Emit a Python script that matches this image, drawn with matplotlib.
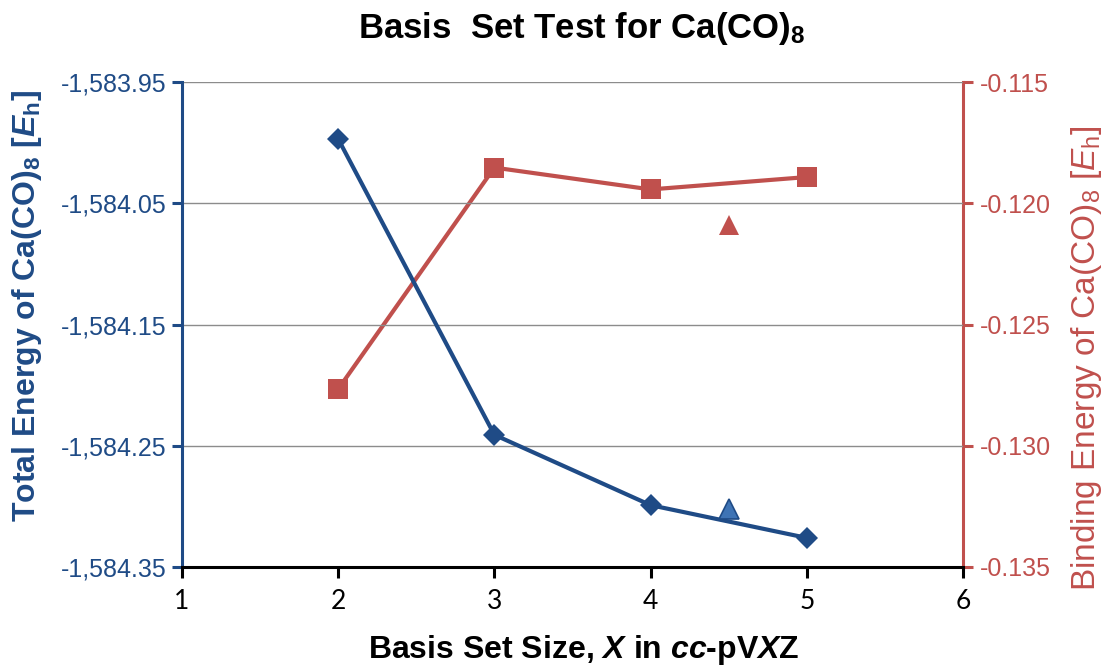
import matplotlib
matplotlib.use("Agg")
import matplotlib.pyplot as plt
from matplotlib.ticker import FuncFormatter

plt.rcParams['font.family'] = ['Liberation Sans', 'DejaVu Sans']
plt.rcParams['mathtext.fontset'] = 'custom'
plt.rcParams['mathtext.rm'] = 'Liberation Sans'
plt.rcParams['mathtext.it'] = 'Liberation Sans:italic'
plt.rcParams['mathtext.bf'] = 'Liberation Sans:bold'
plt.rcParams['mathtext.bfit'] = 'Liberation Sans:bold:italic'

# ---- data ----
basis_x = [2, 3, 4, 5]
total_energy = [-1583.997, -1584.241, -1584.299, -1584.326]
binding_energy = [-0.12766, -0.11853, -0.11943, -0.11892]
extra_x = [4.5]
extra_total = [-1584.302]
extra_binding = [-0.12088]

left_ticks = [-1583.95, -1584.05, -1584.15, -1584.25, -1584.35]
right_ticks = [-0.115, -0.120, -0.125, -0.130, -0.135]
x_ticks = [1, 2, 3, 4, 5, 6]

BLUE = '#1F4B86'
BLUE_LIGHT = '#3F74B5'
RED = '#C0504D'

W, H = 1108, 671
fig = plt.figure(figsize=(W / 100, H / 100), dpi=100)
ax = fig.add_axes([182 / W, 1 - 567 / H, (963 - 182) / W, (567 - 82) / H])
ax2 = ax.twinx()

ax.set_xlim(1, 6)
ax.set_ylim(-1584.35, -1583.95)
ax2.set_ylim(-0.135, -0.115)
ax.set_xticks(x_ticks)
ax.set_yticks(left_ticks)
ax2.set_yticks(right_ticks)

ax.yaxis.set_major_formatter(FuncFormatter(lambda v, p: f"{v:,.2f}"))
ax2.yaxis.set_major_formatter(FuncFormatter(lambda v, p: f"{v:.3f}"))

ax.grid(axis='y', color='#8C8C8C', linewidth=1.0)
ax.set_axisbelow(True)

# spines
for a in (ax, ax2):
    a.spines['top'].set_visible(False)
ax.spines['left'].set_color(BLUE)
ax.spines['left'].set_linewidth(2.2)
ax.spines['bottom'].set_color('black')
ax.spines['bottom'].set_linewidth(2.2)
ax.spines['right'].set_visible(False)
ax2.spines['left'].set_visible(False)
ax2.spines['bottom'].set_visible(False)
ax2.spines['right'].set_color(RED)
ax2.spines['right'].set_linewidth(2.2)

ax.tick_params(axis='y', colors=BLUE, labelsize=18, length=7, width=2.2,
               direction='out', pad=4)
ax.tick_params(axis='x', colors='black', labelsize=19, length=8, width=2.2,
               direction='out', pad=8)
for lab in ax.get_xticklabels():
    lab.set_family(['Lato', 'Liberation Sans'])
ax2.tick_params(axis='y', colors=RED, labelsize=18, length=7, width=2.2,
                direction='out', pad=5)

# series
ax.plot(basis_x, total_energy, color=BLUE, linewidth=3, marker='D',
        markersize=11, markeredgewidth=0, zorder=5, clip_on=False)
ax2.plot(basis_x, binding_energy, color=RED, linewidth=3, marker='s',
         markersize=14, markeredgewidth=0, zorder=5, clip_on=False)
ax.plot(extra_x, extra_total, linestyle='none', marker='^', markersize=14,
        color=BLUE_LIGHT, markeredgecolor=BLUE, markeredgewidth=1.2, zorder=6)
ax2.plot(extra_x, extra_binding, linestyle='none', marker='^', markersize=15,
         color=RED, markeredgewidth=0, zorder=6)

ax.set_zorder(ax2.get_zorder() + 1)
ax.patch.set_visible(False)

# labels
fig.text(582 / W, 1 - 38 / H, r"Basis  Set Test for Ca(CO)$_\mathbf{8}$",
         fontsize=25, fontweight='bold', ha='center', va='baseline')
fig.text(584 / W, 1 - 658 / H,
         r"Basis Set Size, $\mathbfit{X}$ in $\mathbfit{cc}$-pV$\mathbfit{X}$Z",
         fontsize=23, fontweight='bold', ha='center', va='baseline')
fig.text(27 / W, 1 - 306 / H,
         r"Total Energy of Ca(CO)$_\mathbf{8}$ [$\mathbfit{E}_\mathbf{h}$]",
         fontsize=23, fontweight='bold', color=BLUE, rotation=90,
         ha='center', va='center')
fig.text(1086 / W, 1 - 358 / H,
         r"Binding Energy of Ca(CO)$_8$ [$\mathit{E}_\mathrm{h}$]",
         fontsize=24, color=RED, rotation=90, ha='center', va='center')

fig.savefig('out.png', dpi=100)
